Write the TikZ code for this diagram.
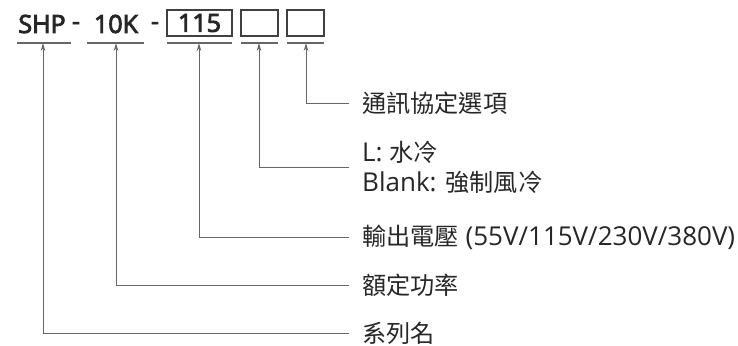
\documentclass[tikz,border=0pt]{standalone}
\usepackage{fontspec}
\setmainfont{Open Sans}
\newfontfamily\partfont[FakeBold=3.5]{Open Sans}
\newfontfamily\cjk[Scale=0.93]{Noto Sans CJK TC}
\usetikzlibrary{arrows.meta,positioning}

\begin{document}
\begin{tikzpicture}[x=1pt,y=-1pt,
  part/.style={inner sep=0pt,text=black!85,font=\partfont\fontsize{25}{28}\selectfont},
  slot/.style={draw=black!75,line width=1.2pt,minimum width=#1,minimum height=26pt},
  uline/.style={draw=black!60,line width=1.4pt},
  lead/.style={draw=black!60,line width=0.9pt,-{Stealth[length=8pt,width=4.5pt]}},
  lbl/.style={anchor=west,inner sep=0pt,align=left,text=black!85,font=\fontsize{26}{30}\selectfont}]
\useasboundingbox (0,0) rectangle (738,345);
% model code
\node[part] (ser) at (42,24) {SHP};
\node[part] (dash1) at (76,26) {-};
\node[part] (pwr) at (116,24) {10K};
\node[part] (dash2) at (155,26) {-};
\node[part,slot=65pt] (volt) at (199.5,23) {115};
\node[part,slot=37pt] (cool) at (259.5,23) {};
\node[part,slot=37pt] (comm) at (305.5,23) {};
% underlines
\draw[uline] (17,43) -- (71,43);
\draw[uline] (87,43) -- (144,43);
\draw[uline] (167,43) -- (232,43);
\draw[uline] (241,43) -- (278,43);
\draw[uline] (287,43) -- (324,43);
\coordinate (ser-u) at (43,43);
\coordinate (pwr-u) at (116,43);
\coordinate (volt-u) at (199,43);
\coordinate (cool-u) at (259,43);
\coordinate (comm-u) at (306,43);
% labels
\node[lbl] (comm-l) at (362,103) {{\cjk 通訊協定選項}};
\node[lbl] (cool-l) at (362,167) {L: {\cjk 水冷}\\Blank: {\cjk 強制風冷}};
\node[lbl] (volt-l) at (362,237) {{\cjk 輸出電壓} (55V/115V/230V/380V)};
\node[lbl] (pwr-l) at (362,285) {{\cjk 額定功率}};
\node[lbl] (ser-l) at (362,333) {{\cjk 系列名}};
% leaders
\draw[lead] ([xshift=-13pt]comm-l.west) -| (comm-u);
\draw[lead] ([xshift=-13pt]cool-l.west) -| (cool-u);
\draw[lead] ([xshift=-13pt]volt-l.west) -| (volt-u);
\draw[lead] ([xshift=-13pt]pwr-l.west) -| (pwr-u);
\draw[lead] ([xshift=-13pt]ser-l.west) -| (ser-u);
\end{tikzpicture}
\end{document}
